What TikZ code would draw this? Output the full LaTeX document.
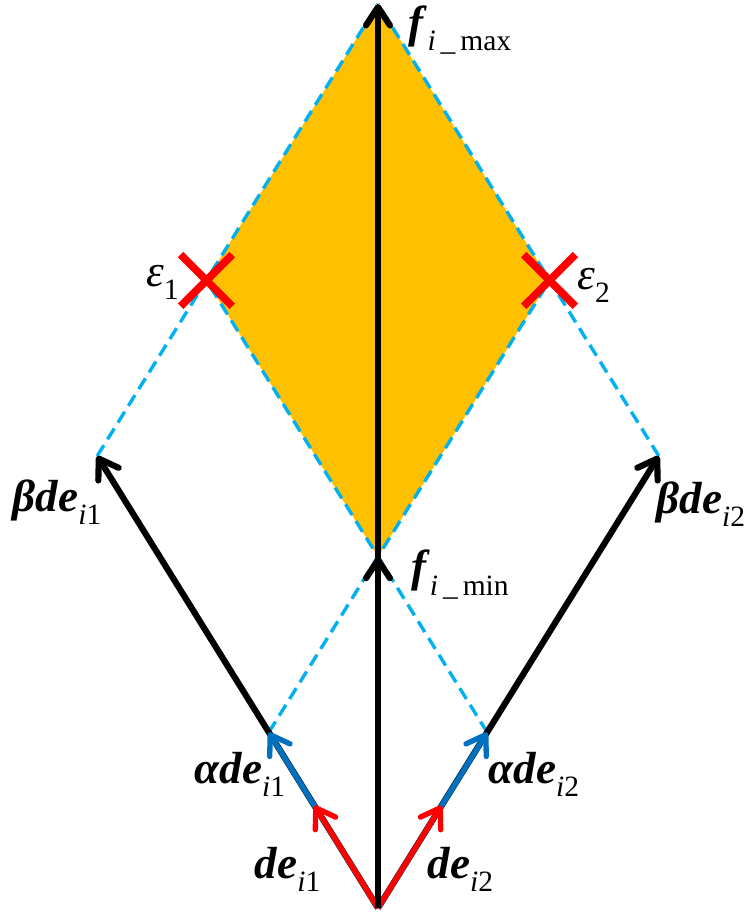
\documentclass[tikz,border=0pt]{standalone}
\usepackage{fontspec}
\setmainfont{Liberation Serif}
\usetikzlibrary{arrows.meta,calc,shapes.misc}
\definecolor{fillorange}{RGB}{255,192,0}
\definecolor{dashblue}{RGB}{0,176,240}
\definecolor{vecblue}{RGB}{0,112,192}
\definecolor{vecred}{RGB}{255,0,0}
\newcommand{\bv}[1]{\textbf{\textit{#1}}}
\newcommand{\lsub}[1]{\raisebox{-0.3em}{\fontsize{21}{21}\selectfont #1}}

\begin{document}
\begin{tikzpicture}[
    barb/.style={-{Straight Barb[length=13pt,width=17pt,round]}},
    blkvec/.style={barb, black, line width=4.4pt},
    bluevec/.style={barb, vecblue, line width=3.8pt},
    redvec/.style={barb, vecred, line width=3.8pt},
    dashln/.style={dashblue, line width=2.4pt, dash pattern=on 9pt off 5pt},
    mark x/.style={draw=vecred, cross out, line width=5.5pt, minimum size=1.1cm, inner sep=0pt},
    lbl/.style={font=\fontsize{32}{32}\selectfont, inner sep=0pt}
]
    \useasboundingbox (-9.45,-0.1) rectangle (9.375,22.7);
    % base vectors
    \coordinate (O) at (0,0);
    \coordinate (de1) at (-1.59,2.56);
    \coordinate (de2) at (1.59,2.56);
    \coordinate (ade1) at (-2.73,4.39);
    \coordinate (ade2) at (2.73,4.39);
    \coordinate (bde1) at (-7.02,11.3);
    \coordinate (bde2) at (7.02,11.3);
    % corners of the feasible region
    \coordinate (fmin) at ($(ade1)+(ade2)$);
    \coordinate (fmax) at ($(bde1)+(bde2)$);
    \coordinate (eps1) at ($(bde1)+(ade2)$);
    \coordinate (eps2) at ($(bde2)+(ade1)$);
    \fill[fillorange] (fmin) -- (eps2) -- (fmax) -- (eps1) -- cycle;
    \draw[dashln] (bde1) -- (fmax);
    \draw[dashln] (bde2) -- (fmax);
    \draw[dashln] (ade1) -- (eps2);
    \draw[dashln] (ade2) -- (eps1);
    % vectors
    \draw[blkvec] (O) -- (bde1);
    \draw[blkvec] (O) -- (bde2);
    \draw[bluevec] (O) -- (ade1);
    \draw[bluevec] (O) -- (ade2);
    \draw[redvec] (O) -- (de1);
    \draw[redvec] (O) -- (de2);
    \draw[blkvec] (O) -- (fmin);
    \draw[blkvec] (O) -- (fmax);
    \node[mark x] (x1) at (eps1) {};
    \node[mark x] (x2) at (eps2) {};
    % labels
    \node[lbl] (lfmax) at ($(fmax)+(2.05,-0.65)$) {\bv{f}\lsub{\textit{i}\,\_\,max}};
    \node[lbl] (lfmin) at ($(fmin)+(2.05,-0.45)$) {\bv{f}\lsub{\textit{i}\,\_\,min}};
    \node[lbl] (leps1) at ($(eps1)+(-1.1,-0.05)$) {\textit{ε}\lsub{1}};
    \node[lbl] (leps2) at ($(eps2)+(1.1,-0.12)$) {\textit{ε}\lsub{2}};
    \node[lbl] (lbde1) at ($(bde1)+(-1.0,-1.15)$) {\bv{βde}\lsub{\textit{i}1}};
    \node[lbl] (lbde2) at ($(bde2)+(1.05,-1.2)$) {\bv{βde}\lsub{\textit{i}2}};
    \node[lbl] (lade1) at ($(ade1)+(-0.72,-1.05)$) {\bv{αde}\lsub{\textit{i}1}};
    \node[lbl] (lade2) at ($(ade2)+(1.17,-1.05)$) {\bv{αde}\lsub{\textit{i}2}};
    \node[lbl] (lde1) at ($(de1)+(-0.67,-1.6)$) {\bv{de}\lsub{\textit{i}1}};
    \node[lbl] (lde2) at ($(de2)+(0.47,-1.6)$) {\bv{de}\lsub{\textit{i}2}};
\end{tikzpicture}
\end{document}
